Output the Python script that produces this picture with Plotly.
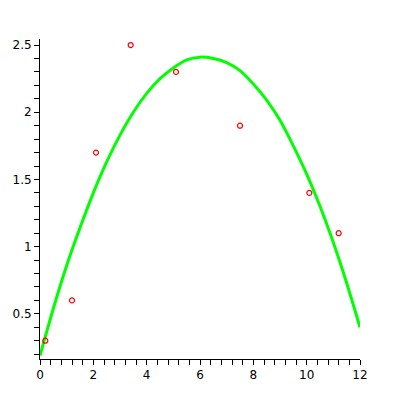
import plotly.graph_objects as go

# measured points
data_x = [0.2, 1.2, 2.1, 3.4, 5.1, 7.5, 10.1, 11.2]
data_y = [0.3, 0.6, 1.7, 2.5, 2.3, 1.9, 1.4, 1.1]

# fitted curve, every half unit
fit_x = [0, 0.5, 1, 1.5, 2, 2.5, 3, 3.5, 4, 4.5, 5, 5.5, 6,
         6.5, 7, 7.5, 8, 8.5, 9, 9.5, 10, 10.5, 11, 11.5, 12]
fit_y = [0.19, 0.54, 0.86, 1.14, 1.40, 1.63, 1.83, 2.00, 2.14, 2.25, 2.33, 2.39, 2.41,
         2.40, 2.37, 2.31, 2.21, 2.09, 1.94, 1.75, 1.54, 1.30, 1.03, 0.73, 0.40]

x_ticks = [0, 2, 4, 6, 8, 10, 12]
y_ticks = [0.5, 1, 1.5, 2, 2.5]

fig = go.Figure()
fig.add_trace(go.Scatter(x=fit_x, y=fit_y, mode='lines',
                         line=dict(color='#00ff00', width=3, shape='spline', smoothing=0.6)))
fig.add_trace(go.Scatter(x=data_x, y=data_y, mode='markers',
                         marker=dict(symbol='circle-open', size=5, color='red',
                                     line=dict(width=1.2, color='red'))))

axis_font = dict(family='DejaVu Sans', size=12, color='black')
# page body has an 8px margin, so the plot box is shifted back by that much
fig.update_layout(width=400, height=400, showlegend=False,
                  paper_bgcolor='white', plot_bgcolor='white',
                  margin=dict(l=32, r=48, t=31, b=49),
                  xaxis=dict(range=[0, 12], tickvals=x_ticks, showgrid=False, zeroline=False,
                             showline=True, linecolor='black', linewidth=1, automargin=False,
                             ticks='outside', ticklen=5, tickcolor='black', tickfont=axis_font,
                             minor=dict(dtick=0.4, tick0=0, ticks='outside', ticklen=5,
                                        tickcolor='black', showgrid=False)),
                  yaxis=dict(range=[0.164, 2.545], tickvals=y_ticks, showgrid=False, zeroline=False,
                             showline=True, linecolor='black', linewidth=1, automargin=False,
                             ticks='outside', ticklen=5, tickcolor='black', tickfont=axis_font,
                             minor=dict(dtick=0.1, tick0=0, ticks='outside', ticklen=5,
                                        tickcolor='black', showgrid=False)))

fig.write_html("out.html")
